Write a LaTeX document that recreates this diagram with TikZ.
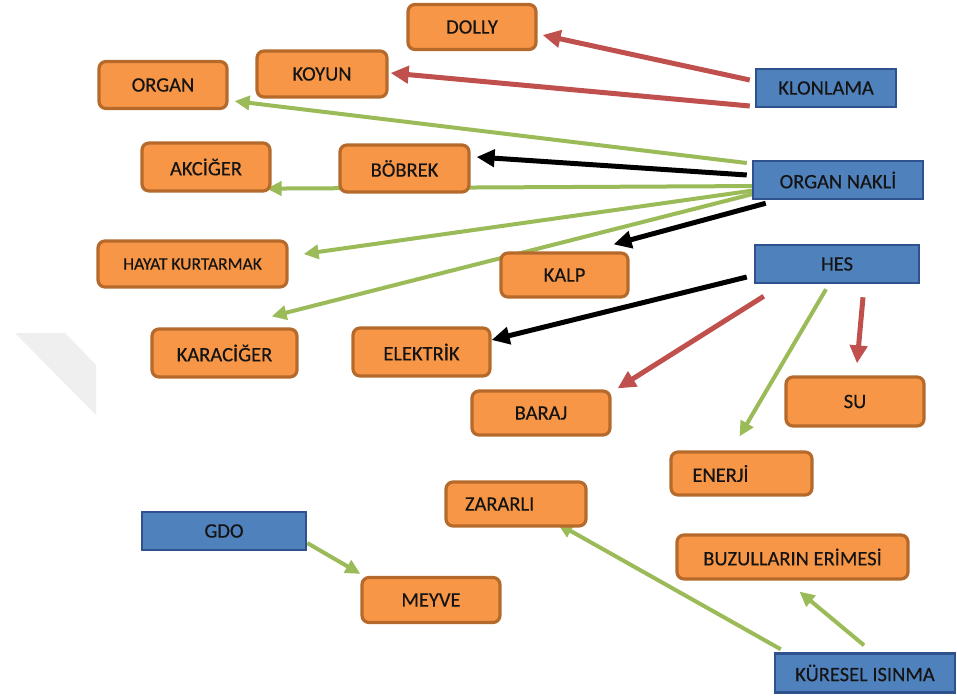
\documentclass[tikz,border=0pt]{standalone}
\usepackage{fontspec}
\setmainfont{Carlito}[FakeBold=0.35]
\usetikzlibrary{arrows.meta,calc}
\pgfdeclarelayer{paper}
\pgfdeclarelayer{links}
\pgfsetlayers{paper,links,main}
\definecolor{boxorange}{HTML}{F79646}
\definecolor{orangeedge}{HTML}{B56A2C}
\definecolor{boxblue}{HTML}{4F81BD}
\definecolor{blueedge}{HTML}{2F528F}
\definecolor{linkred}{HTML}{C0504D}
\definecolor{linkgreen}{HTML}{9BBB59}
\definecolor{labeltext}{HTML}{141414}
\definecolor{faintmark}{HTML}{EFEFEF}
\begin{document}
\begin{tikzpicture}[x=1pt,y=-1pt,
  every node/.style={font=\fontsize{20.5}{24}\selectfont, text=labeltext, inner sep=0pt},
  leaf/.style={draw=orangeedge, line width=3.2pt, fill=boxorange, rounded corners=7pt},
  topic/.style={draw=blueedge, line width=2.5pt, fill=boxblue},
  size/.style 2 args={minimum width=#1pt, minimum height=#2pt},
  link/.style={line width=5pt, -{Triangle[length=18pt,width=17pt]}},
  thin link/.style={line width=4pt, -{Triangle[length=15pt,width=14pt]}},
  redlink/.style={link, draw=linkred, fill=linkred},
  blacklink/.style={link, draw=black, fill=black},
  greenlink/.style={thin link, draw=linkgreen, fill=linkgreen}]
\useasboundingbox (0,0) rectangle (957,696);
\begin{pgfonlayer}{paper}
\fill[white] (0,0) rectangle (957,696);
% faint band at the left edge
\fill[faintmark] (15,333) -- (65,333) -- (96,365) -- (96,415) -- cycle;
\end{pgfonlayer}

% topic boxes
\node[topic, size={140}{38}] (klon) at (826,88) {KLONLAMA};
\node[topic, size={170}{38}] (onak) at (838,180) {ORGAN NAKLİ};
\node[topic, size={164}{38}] (hes) at (837,264) {HES};
\node[topic, size={164}{38}] (gdo) at (224,531) {GDO};
\node[topic, size={180}{39}] (kur) at (865,673) {KÜRESEL ISINMA};

% leaf boxes
\node[leaf, size={128}{45}] (dolly) at (472,27) {DOLLY};
\node[leaf, size={130}{46}] (koyun) at (322,74) {KOYUN};
\node[leaf, size={128}{47}] (organ) at (163,85) {ORGAN};
\node[leaf, size={128}{48}] (akc) at (206,167) {AKCİĞER};
\node[leaf, size={129}{47}] (bob) at (404.5,168.5) {BÖBREK};
\node[leaf, size={189}{46}, font=\fontsize{17.5}{21}\selectfont] (hayat) at (192.5,264) {HAYAT KURTARMAK};
\node[leaf, size={127}{44}] (kalp) at (564.5,275) {KALP};
\node[leaf, size={145}{48}] (kara) at (224.5,353) {KARACİĞER};
\node[leaf, size={137}{48}] (elek) at (421.5,352) {ELEKTRİK};
\node[leaf, size={138}{44}] (baraj) at (541,413) {BARAJ};
\node[leaf, size={138}{49}] (su) at (855,401.5) {SU};
\node[leaf, size={141}{43}, text width=122pt, align=left] (enerji) at (741.5,473.5) {\hspace*{12pt}ENERJİ};
\node[leaf, size={140}{44}, text width=122pt, align=left] (zarar) at (516,504) {\hspace*{10pt}ZARARLI};
\node[leaf, size={138}{45}] (meyve) at (431,600) {MEYVE};
\node[leaf, size={231}{44}] (buz) at (792.5,557) {BUZULLARIN ERİMESİ};

% connectors
\begin{pgfonlayer}{links}
\draw[redlink] ($(klon.west)+(-5,-8)$) -- ($(dolly.east)+(5,8)$);
\draw[redlink] ($(klon.west)+(-5,18)$) -- ($(koyun.east)+(2,-1)$);
\draw[greenlink] ($(onak.west)+(-5,-17)$) -- ($(organ.south east)+(6,-9)$);
\draw[blacklink] ($(onak.west)+(-5,-5)$) -- ($(bob.east)+(6,-11.5)$);
\draw[greenlink] ($(onak.west)+(10,6)$) -- ($(akc.south east)+(-5,-4)$);
\draw[greenlink] ($(onak.west)+(5,10)$) -- ($(hayat.east)+(15,-10)$);
\draw[greenlink] ($(onak.west)+(5,13)$) -- ($(kara.north east)+(-27,-11)$);
\draw[blacklink] ($(onak.south west)+(14,3)$) -- ($(kalp.north east)+(-16,-7)$);
\draw[blacklink] ($(hes.west)+(-7,13)$) -- ($(elek.east)+(0,-12)$);
\draw[redlink] ($(hes.south west)+(10,12)$) -- ($(baraj.north east)+(6,-1)$);
\draw[greenlink] ($(hes.south)+(-11,5)$) -- ($(enerji.north)+(-2,-14)$);
\draw[redlink] ($(hes.south)+(26,13)$) -- ($(su.north)+(2,-12)$);
\draw[greenlink] ($(gdo.east)+(0,12)$) -- ($(meyve.north west)+(0,-2)$);
\draw[greenlink] ($(kur.north west)+(7,-3)$) -- ($(zarar.south east)+(-30,-4)$);
\draw[greenlink] ($(kur.north)+(-1,-7)$) -- ($(buz.south)+(7,11)$);
\end{pgfonlayer}
\end{tikzpicture}
\end{document}
